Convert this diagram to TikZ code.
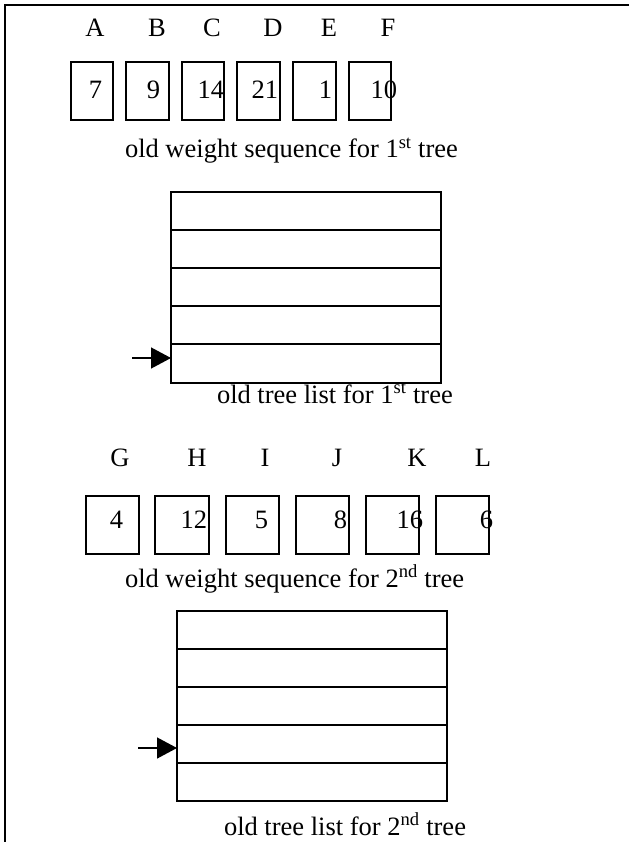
\documentclass[tikz,border=0pt]{standalone}
\usepackage{fontspec}
\setmainfont{Liberation Serif}
\usetikzlibrary{arrows.meta}
\begin{document}
\begin{tikzpicture}[x=1pt,y=-1pt,
  every node/.style={inner sep=0pt,outer sep=0pt,font=\fontsize{26.5}{30}\selectfont},
  wbox/.style={draw,line width=1.4pt},
  frameline/.style={line width=2.3pt},
  rowline/.style={line width=1.4pt},
  ptr/.style={line width=1.4pt,-{Triangle[length=20pt,width=21pt]}}]
\useasboundingbox (0,0) rectangle (629,842);
% frame
\draw[frameline] (629,5) -- (5,5) -- (5,842);
% ---- first tree
\foreach \n/\x in {A/95,B/157,C/212,D/273,E/329,F/388}
  \node[anchor=base] (l\n) at (\x,37) {\n};
\foreach \n/\a/\b in {A/71/113,B/126/169,C/182/224,D/237/280,E/293/336,F/349/391}
  \draw[wbox] (\a,62) rectangle (\b,120) coordinate (b\n);
\foreach \n/\v/\x in {A/7/102,B/9/160,C/14/224,D/21/278,E/1/332,F/10/397}
  \node[anchor=base east] (v\n) at (\x,99) {\v};
\node[anchor=base west] (t1) at (125,158) {old weight sequence for 1\textsuperscript{st} tree};
\node[draw,line width=1.4pt,anchor=north west,minimum width=270pt,minimum height=191pt] (tab1) at (171,192) {};
\foreach \y in {230,268,306,344}
  \draw[rowline] (171,\y) -- (441,\y);
\coordinate (p1) at (132,358);
\draw[ptr] (p1) -- (tab1.west |- p1);
\node[anchor=base west] (t2) at (217,403) {old tree list for 1\textsuperscript{st} tree};
% ---- second tree
\foreach \n/\x in {G/120,H/197,I/265,J/337,K/417,L/483}
  \node[anchor=base] (l\n) at (\x,466) {\n};
\foreach \n/\a/\b in {G/86/139,H/155/209,I/226/279,J/296/349,K/366/419,L/436/489}
  \draw[wbox] (\a,496) rectangle (\b,554);
\foreach \n/\v/\x in {G/4/123,H/12/207,I/5/268,J/8/347,K/16/423,L/6/493}
  \node[anchor=base east] (v\n) at (\x,528) {\v};
\node[anchor=base west] (t3) at (125,587) {old weight sequence for 2\textsuperscript{nd} tree};
\node[draw,line width=1.4pt,anchor=north west,minimum width=270pt,minimum height=190pt] (tab2) at (177,611) {};
\foreach \y in {649,687,725,763}
  \draw[rowline] (177,\y) -- (447,\y);
\coordinate (p2) at (138,748);
\draw[ptr] (p2) -- (tab2.west |- p2);
\node[anchor=base west] (t4) at (224,835) {old tree list for 2\textsuperscript{nd} tree};
\end{tikzpicture}
\end{document}
